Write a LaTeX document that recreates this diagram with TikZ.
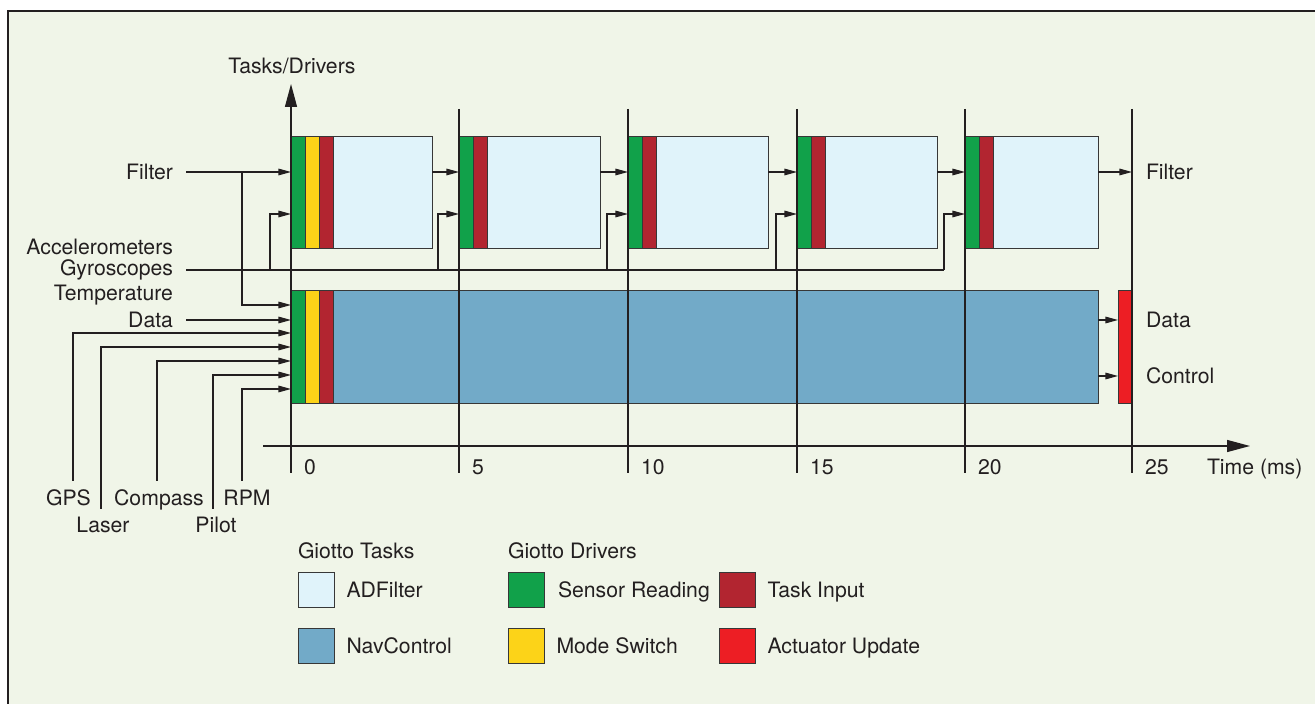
\documentclass[tikz,border=0pt]{standalone}
\usepackage{fontspec}
\setmainfont{TeX Gyre Heros}
\usetikzlibrary{arrows.meta,calc}
\definecolor{bgc}{RGB}{240,245,232}
\definecolor{ink}{RGB}{35,31,32}
\definecolor{edgec}{RGB}{55,55,55}
\definecolor{clight}{RGB}{224,243,250}
\definecolor{cnav}{RGB}{114,170,200}
\definecolor{cgreen}{RGB}{17,161,74}
\definecolor{cyellow}{RGB}{252,211,24}
\definecolor{cdred}{RGB}{178,37,48}
\definecolor{cact}{RGB}{237,30,36}
\begin{document}
\begin{tikzpicture}[x=0.5pt,y=-0.5pt,
  font=\fontsize{10.6}{12}\selectfont,
  box/.style={draw=edgec, line width=0.5pt, inner sep=0pt, outer sep=0pt, anchor=north west},
  bw/.style={minimum width=#1*0.5pt},
  toph/.style={minimum height=56pt},
  both/.style={minimum height=56.5pt},
  legh/.style={minimum height=17.5pt},
  arr/.style={draw=ink, line width=0.6pt, -{Triangle[length=6.3pt,width=3.3pt]}},
  bigarr/.style={draw=ink, line width=0.65pt, -{Triangle[length=11.5pt,width=6pt]}},
  ln/.style={draw=ink, line width=0.6pt},
  lab/.style={inner sep=0pt, outer sep=0pt, text height=7.6pt, text depth=0pt, text=ink}]
\useasboundingbox (0,0) rectangle (1315,704);
\fill[white] (0,0) rectangle (1315,704);
\fill[bgc] (8,11) rectangle (1315,704);
\draw[draw=ink, line width=1pt] (8,704) -- (8,11) -- (1315,11);

% ---- top blocks (ADFilter) ----
\node[box,bw=14,toph,fill=cgreen]  (g1) at (291,137) {};
\node[box,bw=14,toph,fill=cyellow] (y1) at (305,137) {};
\node[box,bw=14,toph,fill=cdred]   (r1) at (319,137) {};
\node[box,bw=99,toph,fill=clight]  (a1) at (333,137) {};
\node[box,bw=14,toph,fill=cgreen]  (g2) at (459,137) {};
\node[box,bw=14,toph,fill=cdred]   (r2) at (473,137) {};
\node[box,bw=113,toph,fill=clight] (a2) at (487,137) {};
\node[box,bw=14,toph,fill=cgreen]  (g3) at (628,137) {};
\node[box,bw=14,toph,fill=cdred]   (r3) at (642,137) {};
\node[box,bw=112,toph,fill=clight] (a3) at (656,137) {};
\node[box,bw=14,toph,fill=cgreen]  (g4) at (797,137) {};
\node[box,bw=14,toph,fill=cdred]   (r4) at (811,137) {};
\node[box,bw=112,toph,fill=clight] (a4) at (825,137) {};
\node[box,bw=14,toph,fill=cgreen]  (g5) at (965,137) {};
\node[box,bw=14,toph,fill=cdred]   (r5) at (979,137) {};
\node[box,bw=105,toph,fill=clight] (a5) at (993,137) {};

% ---- bottom block (NavControl) ----
\node[box,bw=14,both,fill=cgreen]  (G) at (291,291) {};
\node[box,bw=14,both,fill=cyellow] (Y) at (305,291) {};
\node[box,bw=14,both,fill=cdred]   (R) at (319,291) {};
\node[box,bw=765,both,fill=cnav]   (N) at (333,291) {};
\node[box,bw=14,both,fill=cact]    (act) at (1118,291) {};

% ---- time grid ----
\coordinate (t0) at (291,84);
\coordinate (b0) at (291,473);
\draw[bigarr] (b0) -- (t0);
\foreach \x/\n in {459/5,628/10,797/15,965/20,1132/25}{
  \coordinate (t\n) at (\x,109);
  \coordinate (b\n) at (\x,473);
  \draw[ln] (t\n) -- (b\n);
}
\foreach \x/\n in {291/0,459/5,628/10,797/15,965/20,1132/25}{
  \node[lab,anchor=west] (l\n) at (\x+13,466.5) {\n};
}
\coordinate (ta) at (263,446);
\coordinate (tb) at (1250,446);
\draw[bigarr] (ta) -- (tb);
\node[lab,anchor=west] (tl) at (1207,466.5) {Time (ms)};
\node[lab] (td) at (292,66) {Tasks/Drivers};

% ---- left labels ----
\node[lab,anchor=east] (Lf) at (173,172) {Filter};
\node[lab,anchor=east] (La) at (173,247) {Accelerometers};
\node[lab,anchor=east] (Lg) at (173,268) {Gyroscopes};
\node[lab,anchor=east] (Lt) at (173,292.5) {Temperature};
\node[lab,anchor=east] (Ld) at (173,320) {Data};

% ---- right labels ----
\node[lab,anchor=west] (Rf) at (1146,172) {Filter};
\node[lab,anchor=west] (Rd) at (1146,320) {Data};
\node[lab,anchor=west] (Rc) at (1146,376) {Control};

% ---- bottom sensor labels ----
\node[lab] (sg) at (68.5,498) {GPS};
\node[lab] (sl) at (103,525) {Laser};
\node[lab] (sc) at (159,498) {Compass};
\node[lab] (sp) at (216,525) {Pilot};
\node[lab] (sr) at (247,498) {RPM};

% ---- filter connections ----
\coordinate (fb) at (242,172);
\coordinate (p1) at (291,305);
\coordinate (p3) at (291,333);
\coordinate (p4) at (291,347);
\coordinate (p5) at (291,361);
\coordinate (p6) at (291,375);
\coordinate (p7) at (291,389);
\draw[arr] ([xshift=6.5pt]Lf.east) -- (g1.west |- Lf);
\draw[arr] (fb) |- (p1);
\foreach \a/\b in {a1/g2,a2/g3,a3/g4,a4/g5}{
  \draw[arr] (\a.east |- Lf) -- (\b.west |- Lf);
}
\draw[arr] (a5.east |- Lf) -- (t25 |- Lf);

% ---- gyroscope bus ----
\coordinate (ge) at (944,270);
\draw[ln] ([xshift=6.5pt]Lg.east |- ge) -- (ge);
\foreach \n in {1,...,5}{
  \draw[arr] ([xshift=-10.5pt]g\n.west |- ge) |- ([yshift=-10.5pt]g\n.west);
}

% ---- NavControl inputs ----
\draw[arr] ([xshift=6.5pt]Ld.east) -- (G.west |- Ld);
\coordinate (eg) at (73,481);
\coordinate (el) at (101,509);
\coordinate (ec) at (157,481);
\coordinate (ep) at (213,509);
\coordinate (er) at (242,481);
\draw[arr] (eg) |- (p3);
\draw[arr] (el) |- (p4);
\draw[arr] (ec) |- (p5);
\draw[arr] (ep) |- (p6);
\draw[arr] (er) |- (p7);

% ---- outputs ----
\draw[arr] (N.east |- Rd) -- (act.west |- Rd);
\draw[arr] (N.east |- Rc) -- (act.west |- Rc);

% ---- legend ----
\node[lab,anchor=west] (h1) at (298,551) {Giotto Tasks};
\node[lab,anchor=west] (h2) at (508,551) {Giotto Drivers};
\node[box,bw=36,legh,fill=clight]  (k1) at (298,572) {};
\node[box,bw=36,legh,fill=cnav]    (k2) at (298,628) {};
\node[box,bw=36,legh,fill=cgreen]  (k3) at (508,572) {};
\node[box,bw=36,legh,fill=cyellow] (k4) at (508,628) {};
\node[box,bw=36,legh,fill=cdred]   (k5) at (719,572) {};
\node[box,bw=36,legh,fill=cact]    (k6) at (719,628) {};
\node[lab,anchor=west] (m1) at (346.5,590) {ADFilter};
\node[lab,anchor=west] (m2) at (346.5,646) {NavControl};
\node[lab,anchor=west] (m3) at (558,590) {Sensor Reading};
\node[lab,anchor=west] (m4) at (556.5,646) {Mode Switch};
\node[lab,anchor=west] (m5) at (767.5,590) {Task Input};
\node[lab,anchor=west] (m6) at (767.5,646) {Actuator Update};
\end{tikzpicture}
\end{document}
